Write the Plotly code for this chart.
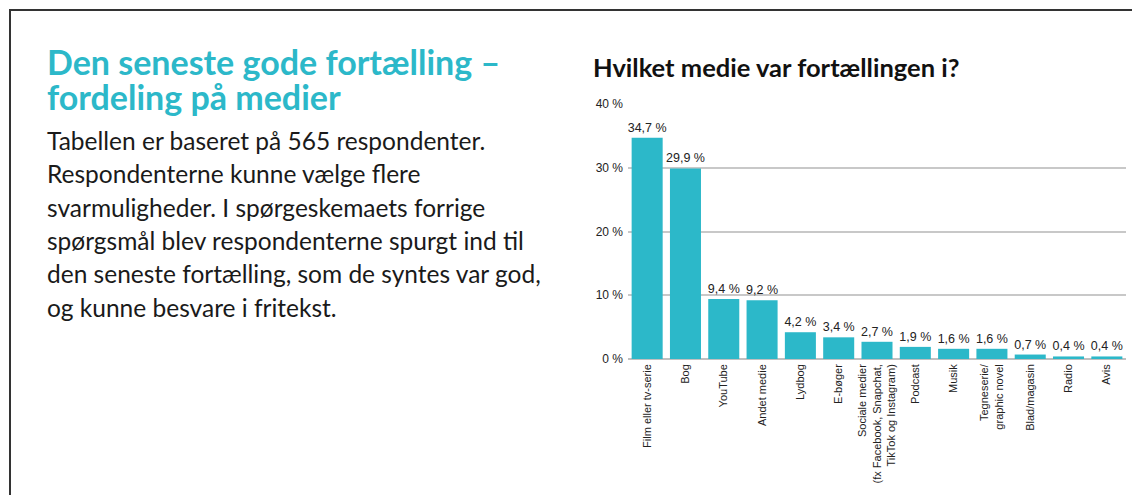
import plotly.graph_objects as go

categories = [
    "Film eller tv-serie", "Bog", "YouTube", "Andet medie", "Lydbog", "E-bøger",
    "Sociale medier<br>(fx Facebook, Snapchat,<br>TikTok og Instagram)",
    "Podcast", "Musik", "Tegneserie/<br>graphic novel", "Blad/magasin", "Radio", "Avis",
]
values = [34.7, 29.9, 9.4, 9.2, 4.2, 3.4, 2.7, 1.9, 1.6, 1.6, 0.7, 0.4, 0.4]
value_labels = ["34,7 %", "29,9 %", "9,4 %", "9,2 %", "4,2 %", "3,4 %", "2,7 %",
                "1,9 %", "1,6 %", "1,6 %", "0,7 %", "0,4 %", "0,4 %"]
y_ticks = [0, 10, 20, 30, 40]
y_tick_labels = ["0 %", "10 %", "20 %", "30 %", "40 %"]

title_lines = ["Den seneste gode fortælling –", "fordeling på medier"]
body_lines = [
    "Tabellen er baseret på 565 respondenter.",
    "Respondenterne kunne vælge flere",
    "svarmuligheder. I spørgeskemaets forrige",
    "spørgsmål blev respondenterne spurgt ind til",
    "den seneste fortælling, som de syntes var god,",
    "og kunne besvare i fritekst.",
]
chart_title = "Hvilket medie var fortællingen i?"

TEAL = "#2cb8c9"
COND = "Liberation Sans Narrow, Liberation Sans, Arial, sans-serif"
TEXTF = "Lato, Open Sans, sans-serif"

W, H = 1132, 495
L, R, T, B = 628, 6, 104, 136
PW = W - L - R
PH = H - T - B


def px(x):
    return (x - L) / PW


def py(y):
    return (H - B - y) / PH


fig = go.Figure()
fig.add_trace(go.Bar(
    x=categories, y=values, marker_color=TEAL, marker_line_width=0,
    text=value_labels, textposition="outside", cliponaxis=False,
    constraintext="none",
    textfont=dict(family=COND, size=12.5, color="#222"),
))

annotations = []
title_baselines = [74.5, 110]
for line, base in zip(title_lines, title_baselines):
    size = 34
    annotations.append(dict(
        text=line, xref="paper", yref="paper", x=px(44.5), y=py(base - 0.387 * size),
        xanchor="left", yanchor="middle", showarrow=False, align="left",
        font=dict(family=TEXTF, size=size, color=TEAL, weight="bold")))

body_size = 24.5
for i, line in enumerate(body_lines):
    base = 150 + i * 33.3
    annotations.append(dict(
        text=line, xref="paper", yref="paper", x=px(45), y=py(base - 0.387 * body_size),
        xanchor="left", yanchor="middle", showarrow=False, align="left",
        font=dict(family=TEXTF, size=body_size, color="#1a1a1a")))

ct_size = 25.5
annotations.append(dict(
    text=chart_title, xref="paper", yref="paper", x=px(591), y=py(76.7 - 0.387 * ct_size),
    xanchor="left", yanchor="middle", showarrow=False, align="left",
    font=dict(family=TEXTF, size=ct_size, color="#111", weight="bold")))

fig.update_layout(
    width=W, height=H,
    margin=dict(l=L, r=R, t=T, b=B, autoexpand=False),
    paper_bgcolor="white", plot_bgcolor="white",
    bargap=0.19, showlegend=False,
    xaxis=dict(tickangle=-90, tickfont=dict(family=COND, size=11, color="#222"),
               showgrid=False, zeroline=False, showline=False, ticks="",
               automargin=False, ticklabelstandoff=2),
    yaxis=dict(range=[0, 40], tickvals=y_ticks, ticktext=y_tick_labels,
               tickfont=dict(family=COND, size=12, color="#222"),
               showgrid=True, gridcolor="#c8c8c8", gridwidth=1.5,
               zeroline=True, zerolinecolor="#c0c0c0", zerolinewidth=2,
               ticks="", ticklabelstandoff=4, automargin=False),
    shapes=[
        dict(type="line", xref="paper", yref="paper", x0=px(9), x1=px(1132), y0=py(10), y1=py(10),
             line=dict(color="#333", width=2)),
        dict(type="line", xref="paper", yref="paper", x0=px(10), x1=px(10), y0=py(9), y1=py(495),
             line=dict(color="#333", width=2)),
    ],
    annotations=annotations,
)

fig.write_html("out.html", config={"displayModeBar": False},
               post_script="document.body.style.margin='0';document.body.style.overflow='hidden';")
